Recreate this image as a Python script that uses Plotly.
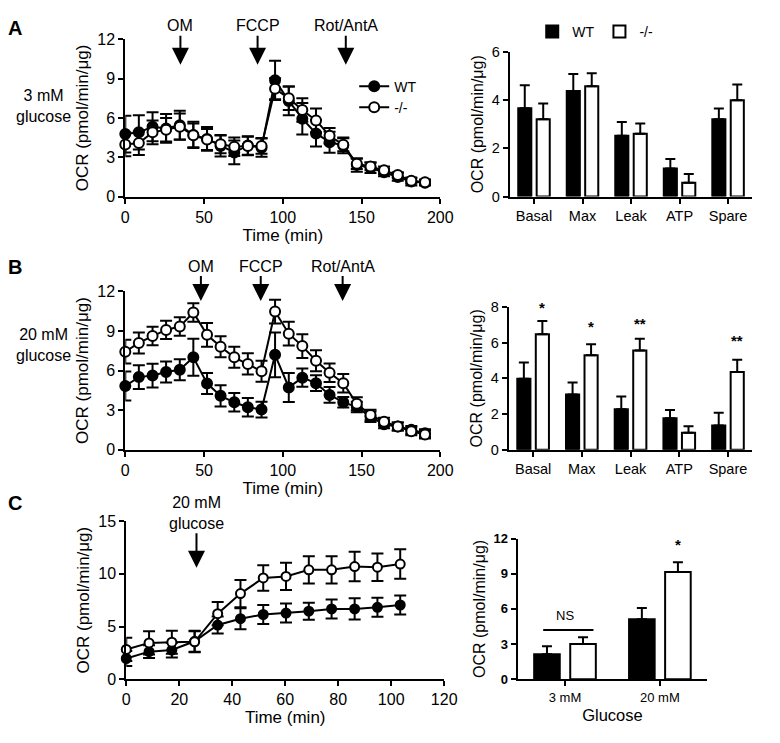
import plotly.graph_objects as go

W, H = 780, 743
FONT = "Liberation Sans, Arial, sans-serif"

# ---- data ----
time_ab = [0, 8.6, 17.3, 25.9, 34.6, 43.2, 51.9, 60.5, 69.2, 77.8, 86.5, 95.1,
           103.8, 112.4, 121.1, 129.7, 138.4, 147, 155.7, 164.3, 173, 181.6, 190.3]

# panel A (3 mM glucose)
a_wt = [4.77, 4.9, 5.33, 5.2, 5.45, 4.7, 4.4, 3.86, 3.37, 3.9, 3.73, 8.87,
        7.3, 5.94, 4.82, 4.15, 3.9, 2.4, 2.2, 1.85, 1.5, 1.15, 1.05]
a_wt_err = [1.4, 1.3, 1.1, 1.1, 1.1, 1.0, 0.9, 0.8, 0.9, 0.7, 0.7, 1.5,
            1.1, 1.2, 1.0, 0.8, 0.6, 0.5, 0.4, 0.3, 0.3, 0.3, 0.2]
a_ko = [3.98, 4.08, 4.9, 5.1, 5.33, 4.67, 4.35, 4.0, 3.8, 3.86, 3.86, 8.22,
        7.5, 6.6, 5.81, 4.64, 3.95, 2.5, 2.3, 2.0, 1.65, 1.2, 1.1]
a_ko_err = [0.9, 0.9, 0.9, 0.9, 1.0, 0.9, 0.8, 0.7, 0.7, 0.7, 0.6, 0.8,
            0.9, 0.9, 0.9, 0.6, 0.5, 0.4, 0.3, 0.3, 0.2, 0.2, 0.2]

# panel B (20 mM glucose)
b_wt = [4.83, 5.5, 5.62, 5.89, 6.06, 7.0, 5.02, 4.08, 3.59, 3.22, 3.04, 7.19,
        4.72, 5.46, 5.04, 4.15, 3.6, 3.23, 2.49, 1.93, 1.75, 1.5, 1.25]
b_wt_err = [1.1, 0.9, 0.9, 0.8, 0.8, 1.4, 0.8, 0.8, 0.7, 0.7, 0.6, 1.7,
            1.1, 0.7, 0.6, 0.6, 0.4, 0.4, 0.4, 0.3, 0.3, 0.3, 0.3]
b_ko = [7.43, 8.09, 8.61, 9.08, 9.33, 10.4, 8.71, 7.8, 7.0, 6.5, 5.94, 10.47,
        8.79, 7.85, 6.74, 5.83, 5.04, 3.48, 2.62, 2.12, 1.75, 1.4, 1.15]
b_ko_err = [0.9, 0.8, 0.7, 0.7, 0.7, 0.7, 0.9, 0.8, 0.8, 0.8, 0.8, 0.9,
            0.9, 0.9, 0.8, 0.7, 0.7, 0.5, 0.4, 0.3, 0.3, 0.3, 0.3]

# panel C (glucose addition)
time_c = [0, 8.6, 17.2, 25.8, 34.5, 43.1, 51.7, 60.3, 68.9, 77.5, 86.2, 94.8, 103.4]
c_wt = [1.97, 2.62, 2.77, 3.6, 5.14, 5.74, 6.14, 6.27, 6.45, 6.67, 6.67, 6.82, 7.04]
c_wt_err = [0.7, 0.6, 0.7, 1.0, 0.8, 1.0, 0.9, 0.9, 0.8, 0.9, 1.0, 0.9, 0.9]
c_ko = [2.83, 3.45, 3.51, 3.55, 6.22, 8.12, 9.6, 9.75, 10.37, 10.37, 10.68, 10.62, 10.92]
c_ko_err = [1.1, 1.1, 1.1, 1.0, 1.1, 1.3, 1.2, 1.3, 1.3, 1.3, 1.4, 1.3, 1.4]

# bar summaries
params = ["Basal", "Max", "Leak", "ATP", "Spare"]
a_bar_wt = [3.67, 4.38, 2.52, 1.17, 3.21]
a_bar_wt_err = [0.95, 0.71, 0.57, 0.39, 0.44]
a_bar_ko = [3.21, 4.58, 2.61, 0.57, 4.0]
a_bar_ko_err = [0.65, 0.54, 0.42, 0.37, 0.65]

b_bar_wt = [3.98, 3.09, 2.27, 1.76, 1.36]
b_bar_wt_err = [0.91, 0.67, 0.71, 0.46, 0.71]
b_bar_ko = [6.47, 5.29, 5.56, 0.95, 4.36]
b_bar_ko_err = [0.75, 0.62, 0.66, 0.36, 0.68]
b_stars = ["*", "*", "**", "", "**"]
b_star_y = [7.95, 6.9, 7.1, 0, 6.1]

glucose = ["3 mM", "20 mM"]
c_bar_wt = [2.13, 5.11]
c_bar_wt_err = [0.69, 0.97]
c_bar_ko = [3.01, 9.15]
c_bar_ko_err = [0.58, 0.83]


def xd(a, b):
    return [a / W, b / W]


def yd(top, bottom):
    return [1 - bottom / H, 1 - top / H]


def line_pair(t, wt, wt_e, ko, ko_e, ax, legend=False, size=10):
    n = "" if ax == 1 else str(ax)
    traces = []
    for name, y, e, fill in [("WT", wt, wt_e, "black"), ("-/-", ko, ko_e, "white")]:
        traces.append(go.Scatter(
            x=t, y=y, mode="lines+markers", name=name,
            xaxis="x" + n, yaxis="y" + n, cliponaxis=False,
            showlegend=legend, legend="legend",
            line=dict(color="black", width=2),
            marker=dict(symbol="circle", size=size, color=fill,
                        line=dict(color="black", width=2)),
            error_y=dict(type="data", array=e, color="black",
                         thickness=2, width=6),
        ))
    return traces


def bar_pair(cats, wt, wt_e, ko, ko_e, ax, legend=False):
    n = str(ax)
    traces = []
    for name, y, e, fill in [("WT", wt, wt_e, "black"), ("-/-", ko, ko_e, "white")]:
        traces.append(go.Bar(
            x=cats, y=y, name=name, xaxis="x" + n, yaxis="y" + n,
            showlegend=legend, legend="legend2",
            marker=dict(color=fill, line=dict(color="black", width=2)),
            error_y=dict(type="data", symmetric=False, array=e,
                         arrayminus=[0] * len(e), color="black",
                         thickness=2, width=5),
        ))
    return traces


fig = go.Figure()
for tr in line_pair(time_ab, a_wt, a_wt_err, a_ko, a_ko_err, 1, legend=True):
    fig.add_trace(tr)
for tr in bar_pair(params, a_bar_wt, a_bar_wt_err, a_bar_ko, a_bar_ko_err, 2, legend=True):
    fig.add_trace(tr)
for tr in line_pair(time_ab, b_wt, b_wt_err, b_ko, b_ko_err, 3):
    fig.add_trace(tr)
for tr in bar_pair(params, b_bar_wt, b_bar_wt_err, b_bar_ko, b_bar_ko_err, 4):
    fig.add_trace(tr)
for tr in line_pair(time_c, c_wt, c_wt_err, c_ko, c_ko_err, 5, size=9):
    fig.add_trace(tr)
for tr in bar_pair(glucose, c_bar_wt, c_bar_wt_err, c_bar_ko, c_bar_ko_err, 6):
    fig.add_trace(tr)

ax_style = dict(showline=True, linecolor="black", linewidth=2, ticks="outside",
                ticklen=5, tickwidth=2, tickcolor="black", showgrid=False,
                zeroline=False, tickfont=dict(size=16, color="black"))
ytitle = "OCR (pmol/min/\u03bcg)"
big_t = dict(size=17)
small_tick = dict(size=14.5, color="black")

layout = dict(
    width=W, height=H, margin=dict(l=0, r=0, t=0, b=0),
    paper_bgcolor="white", plot_bgcolor="white",
    font=dict(family=FONT, color="black"),
    bargap=0.24, bargroupgap=0.29,
    legend=dict(x=358 / W, y=1 - 64 / H, xanchor="left", yanchor="top",
                bgcolor="rgba(0,0,0,0)", font=dict(size=14),
                tracegroupgap=0, itemwidth=30),
    legend2=dict(x=540 / W, y=1 - 8 / H, xanchor="left", yanchor="top",
                 orientation="h", bgcolor="rgba(0,0,0,0)", font=dict(size=14)),
)

# panel A
layout["xaxis"] = dict(ax_style, domain=xd(124, 446), range=[0, 200], anchor="y",
                       tickvals=[0, 50, 100, 150, 200],
                       title=dict(text="Time (min)", font=big_t, standoff=2))
layout["yaxis"] = dict(ax_style, domain=yd(32, 193), range=[0, 12], anchor="x",
                       tickvals=[0, 3, 6, 9, 12],
                       title=dict(text=ytitle, font=big_t, standoff=4))
layout["xaxis2"] = dict(ax_style, domain=xd(517, 765), range=[-0.5, 4.5], anchor="y2",
                        tickfont=small_tick)
layout["yaxis2"] = dict(ax_style, domain=yd(45, 193), range=[0, 6], anchor="x2",
                        tickvals=[0, 2, 4, 6], tickfont=small_tick,
                        title=dict(text=ytitle, font=dict(size=16), standoff=4))
# panel B
layout["xaxis3"] = dict(ax_style, domain=xd(124, 446), range=[0, 200], anchor="y3",
                        tickvals=[0, 50, 100, 150, 200],
                        title=dict(text="Time (min)", font=big_t, standoff=2))
layout["yaxis3"] = dict(ax_style, domain=yd(290, 452), range=[0, 12], anchor="x3",
                        tickvals=[0, 3, 6, 9, 12],
                        title=dict(text=ytitle, font=big_t, standoff=4))
layout["xaxis4"] = dict(ax_style, domain=xd(516, 765), range=[-0.5, 4.5], anchor="y4",
                        tickfont=small_tick)
layout["yaxis4"] = dict(ax_style, domain=yd(306, 452), range=[0, 8], anchor="x4",
                        tickvals=[0, 2, 4, 6, 8], tickfont=small_tick,
                        title=dict(text=ytitle, font=dict(size=16), standoff=4))
# panel C
layout["xaxis5"] = dict(ax_style, domain=xd(125, 450), range=[0, 120], anchor="y5",
                        tickvals=[0, 20, 40, 60, 80, 100, 120],
                        title=dict(text="Time (min)", font=big_t, standoff=2))
layout["yaxis5"] = dict(ax_style, domain=yd(525, 687), range=[0, 15], anchor="x5",
                        tickvals=[0, 5, 10, 15],
                        title=dict(text=ytitle, font=big_t, standoff=4))
layout["xaxis6"] = dict(ax_style, domain=xd(525, 719), range=[-0.5, 1.5], anchor="y6",
                        tickfont=dict(size=13, color="black"),
                        title=dict(text="Glucose", font=dict(size=16.5), standoff=6))
layout["yaxis6"] = dict(ax_style, domain=yd(543, 687), range=[0, 12], anchor="x6",
                        tickvals=[0, 3, 6, 9, 12],
                        tickfont=dict(size=13, color="black", weight="bold"),
                        title=dict(text=ytitle, font=dict(size=16), standoff=4))

fig.update_layout(**layout)

annotations = []
# panel letters and side labels
for letter, top in [("A", 20), ("B", 265), ("C", 507)]:
    annotations.append(dict(x=2 / W, y=1 - top / H, xref="paper", yref="paper",
                            text="<b>" + letter + "</b>", showarrow=False,
                            xanchor="left", yanchor="middle", font=dict(size=20)))
annotations.append(dict(x=40 / W, y=1 - 100 / H, xref="paper", yref="paper",
                        xanchor="center", yanchor="middle",
                        text="3 mM<br>glucose", showarrow=False, font=dict(size=16)))
annotations.append(dict(x=40 / W, y=1 - 345 / H, xref="paper", yref="paper",
                        xanchor="center", yanchor="middle",
                        text="20 mM<br>glucose", showarrow=False, font=dict(size=16)))

# injection arrows
arrow = dict(showarrow=True, arrowhead=2, arrowsize=1.7, arrowwidth=2,
             arrowcolor="black", ax=0, font=dict(size=16))
for label, t in [("OM", 35), ("FCCP", 84), ("Rot/AntA", 140)]:
    annotations.append(dict(arrow, x=t, y=10.06, xref="x", yref="y", text=label, ay=-39))
for label, t in [("OM", 48), ("FCCP", 86), ("Rot/AntA", 138)]:
    annotations.append(dict(arrow, x=t, y=11.26, xref="x3", yref="y3", text=label, ay=-35))
annotations.append(dict(arrow, x=26.5, y=10.56, xref="x5", yref="y5",
                        text="20 mM<br>glucose", ay=-55))

# significance marks
for cat, s, yy in zip(params, b_stars, b_star_y):
    if s:
        annotations.append(dict(x=cat, y=yy, xref="x4", yref="y4", text="<b>" + s + "</b>",
                                showarrow=False, xshift=9, font=dict(size=15)))
annotations.append(dict(x="20 mM", y=11.5, xref="x6", yref="y6", text="<b>*</b>",
                        showarrow=False, xshift=18, font=dict(size=15)))
annotations.append(dict(x="3 mM", y=5.4, xref="x6", yref="y6", text="NS",
                        showarrow=False, font=dict(size=13)))
fig.update_layout(annotations=annotations)

fig.add_shape(type="line", xref="x6", yref="y6", x0=-0.23, x1=0.3, y0=4.2, y1=4.2,
              line=dict(color="black", width=2))

# drop the default page margin so the figure sits at the window origin
fig.write_html("out.html", config={"displayModeBar": False},
               post_script="document.body.style.margin='0';")
